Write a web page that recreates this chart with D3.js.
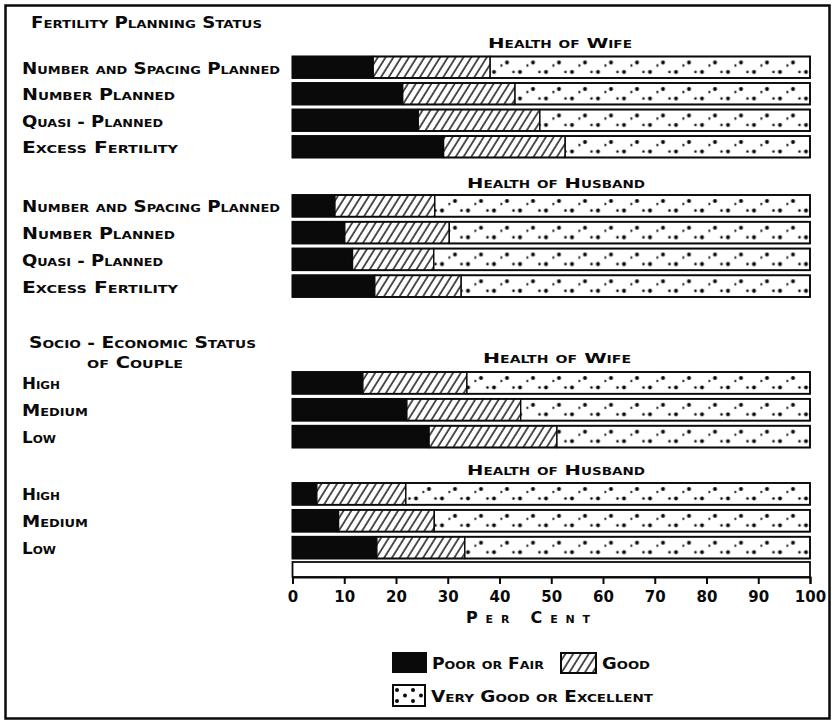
<!DOCTYPE html>
<html><head><meta charset="utf-8">
<script src="https://cdn.jsdelivr.net/npm/d3@7"></script>
<style>
body{margin:0;background:#fff;}
svg{display:block;}
text{font-family:"DejaVu Sans",sans-serif;font-weight:bold;font-variant:small-caps;fill:#0a0a0a;}
</style></head>
<body>
<svg id="chart" width="834" height="725"></svg>
<script>
// ---------- data ----------
const fpsCategories = ["Number and Spacing Planned", "Number Planned", "Quasi - Planned", "Excess Fertility"];
const sesCategories = ["High", "Medium", "Low"];
const seriesNames = ["Poor or Fair", "Good", "Very Good or Excellent"];

const wifeFpsPoor = [15.6, 21.3, 24.3, 29.2];
const wifeFpsGood = [22.6, 21.7, 23.5, 23.5];
const wifeFpsVeryGood = [61.8, 57.0, 52.2, 47.3];

const husbandFpsPoor = [8.2, 10.1, 11.6, 15.9];
const husbandFpsGood = [19.3, 20.2, 15.7, 16.7];
const husbandFpsVeryGood = [72.5, 69.7, 72.7, 67.4];

const wifeSesPoor = [13.6, 22.1, 26.4];
const wifeSesGood = [20.1, 22.0, 24.7];
const wifeSesVeryGood = [66.3, 55.9, 48.9];

const husbandSesPoor = [4.7, 8.9, 16.3];
const husbandSesGood = [17.2, 18.5, 17.0];
const husbandSesVeryGood = [78.1, 72.6, 66.7];

const tickValues = [0, 10, 20, 30, 40, 50, 60, 70, 80, 90, 100];

// ---------- layout ----------
const svg = d3.select("#chart");
const ink = "#0a0a0a";
const x = d3.scaleLinear().domain([0, 100]).range([292.5, 810]);

const panels = [
  {title: "Health of Wife", cats: fpsCategories, poor: wifeFpsPoor, good: wifeFpsGood, vg: wifeFpsVeryGood,
   range: [56.5, 157.5], titleY: 48, titleX: 560, titleW: 144, labelX: 22},
  {title: "Health of Husband", cats: fpsCategories, poor: husbandFpsPoor, good: husbandFpsGood, vg: husbandFpsVeryGood,
   range: [195, 297], titleY: 188, titleX: 556, titleW: 178, labelX: 22},
  {title: "Health of Wife", cats: sesCategories, poor: wifeSesPoor, good: wifeSesGood, vg: wifeSesVeryGood,
   range: [372, 447.5], titleY: 363, titleX: 557, titleW: 148, labelX: 22},
  {title: "Health of Husband", cats: sesCategories, poor: husbandSesPoor, good: husbandSesGood, vg: husbandSesVeryGood,
   range: [483, 558.5], titleY: 475, titleX: 556, titleW: 178, labelX: 22}
];
const labelWidths = {
  "Number and Spacing Planned": 258, "Number Planned": 153, "Quasi - Planned": 141, "Excess Fertility": 156,
  "High": 38, "Medium": 66, "Low": 34
};

const defs = svg.append("defs");
// hatch pattern
const hatch = defs.append("pattern").attr("id", "hatch").attr("patternUnits", "userSpaceOnUse")
  .attr("width", 6.6).attr("height", 20).attr("patternTransform", "rotate(32)");
hatch.append("rect").attr("width", 6.6).attr("height", 20).attr("fill", "#fff");
hatch.append("line").attr("x1", 1).attr("x2", 1).attr("y1", 0).attr("y2", 20)
  .attr("stroke", ink).attr("stroke-width", 1.4);

function dotPattern(id, y0, h) {
  const p = defs.append("pattern").attr("id", id).attr("patternUnits", "userSpaceOnUse")
    .attr("x", 292.5).attr("y", y0).attr("width", 26).attr("height", h);
  p.append("rect").attr("width", 26).attr("height", h).attr("fill", "#fff");
  p.append("circle").attr("cx", 6.5).attr("cy", 6).attr("r", 2).attr("fill", ink);
  p.append("circle").attr("cx", 19.5).attr("cy", 15.5).attr("r", 2).attr("fill", ink);
  p.append("circle").attr("cx", 13).attr("cy", 15.5).attr("r", 1.3).attr("fill", ink);
  p.append("circle").attr("cx", 0.5).attr("cy", 9).attr("r", 1.3).attr("fill", ink);
}

// frame
svg.append("rect").attr("x", 5.5).attr("y", 5.5).attr("width", 824).attr("height", 713)
  .attr("fill", "none").attr("stroke", ink).attr("stroke-width", 2.5);

// section titles
svg.append("text").attr("x", 31).attr("y", 28).attr("font-size", 15)
  .attr("textLength", 231).attr("lengthAdjust", "spacingAndGlyphs").text("Fertility Planning Status");
svg.append("text").attr("x", 29).attr("y", 348).attr("font-size", 15)
  .attr("textLength", 227).attr("lengthAdjust", "spacingAndGlyphs").text("Socio - Economic Status");
svg.append("text").attr("x", 87).attr("y", 368).attr("font-size", 15)
  .attr("textLength", 96).attr("lengthAdjust", "spacingAndGlyphs").text("of Couple");

const colors = [ink, "url(#hatch)", null];

panels.forEach((pan, pi) => {
  const y = d3.scaleBand().domain(pan.cats).range(pan.range).paddingInner(0.19).paddingOuter(0);
  const dotId = "dots" + pi;
  dotPattern(dotId, y(pan.cats[0]), y.step());
  const rows = pan.cats.map((c, i) => ({cat: c, poor: pan.poor[i], good: pan.good[i], vg: pan.vg[i]}));
  const stack = d3.stack().keys(["poor", "good", "vg"])(rows);
  const g = svg.append("g");
  g.selectAll("g.layer").data(stack).join("g").attr("class", "layer")
    .attr("fill", (d, i) => i === 2 ? `url(#${dotId})` : colors[i])
    .selectAll("rect").data(d => d).join("rect")
    .attr("x", d => x(d[0])).attr("width", d => x(d[1]) - x(d[0]))
    .attr("y", d => y(d.data.cat)).attr("height", y.bandwidth())
    .attr("stroke", ink).attr("stroke-width", 1.4);
  g.selectAll("rect.outline").data(rows).join("rect").attr("class", "outline")
    .attr("x", x(0)).attr("width", x(100) - x(0))
    .attr("y", d => y(d.cat)).attr("height", y.bandwidth())
    .attr("fill", "none").attr("stroke", ink).attr("stroke-width", 1.8);
  svg.append("g").selectAll("text").data(pan.cats).join("text")
    .attr("x", pan.labelX).attr("y", d => y(d) + y.bandwidth() / 2 + 6.5)
    .attr("font-size", 15.5)
    .attr("textLength", d => labelWidths[d]).attr("lengthAdjust", "spacingAndGlyphs")
    .text(d => d);
  svg.append("text").attr("x", pan.titleX).attr("y", pan.titleY).attr("text-anchor", "middle")
    .attr("font-size", 14.5).attr("textLength", pan.titleW).attr("lengthAdjust", "spacingAndGlyphs")
    .text(pan.title);
  if (pi === 3) {
    const bottom = y(pan.cats[pan.cats.length - 1]) + y.bandwidth();
    svg.append("rect").attr("x", x(0)).attr("width", x(100) - x(0))
      .attr("y", bottom + 3.5).attr("height", 577 - bottom - 3.5)
      .attr("fill", "#fff").attr("stroke", ink).attr("stroke-width", 1.8);
  }
});

// axis
const axis = svg.append("g").attr("transform", "translate(0,577)")
  .call(d3.axisBottom(x).tickValues(tickValues).tickSize(7).tickPadding(7).tickSizeOuter(7));
axis.select(".domain").attr("stroke", ink).attr("stroke-width", 2);
axis.selectAll(".tick line").attr("stroke", ink).attr("stroke-width", 2);
axis.selectAll(".tick text").attr("font-size", 15).attr("font-family", "DejaVu Sans")
  .attr("font-weight", "bold").attr("fill", ink);
svg.append("text").attr("x", 528).attr("y", 623).attr("text-anchor", "middle").attr("font-size", 16)
  .attr("textLength", 124).attr("lengthAdjust", "spacing").text("Per Cent");

// legend
const legendItems = [
  {name: seriesNames[0], fill: ink, bx: 393, by: 653, bw: 33, bh: 19, tx: 432, tw: 112},
  {name: seriesNames[1], fill: "url(#hatch)", bx: 561, by: 653, bw: 35, bh: 20, tx: 602, tw: 48},
  {name: seriesNames[2], fill: "url(#dotsLegend)", bx: 393, by: 685, bw: 32, bh: 21, tx: 431, tw: 222}
];
const lp = defs.append("pattern").attr("id", "dotsLegend").attr("patternUnits", "userSpaceOnUse")
  .attr("x", 393).attr("y", 685).attr("width", 16).attr("height", 21);
lp.append("rect").attr("width", 16).attr("height", 21).attr("fill", "#fff");
lp.append("circle").attr("cx", 4).attr("cy", 5).attr("r", 2).attr("fill", ink);
lp.append("circle").attr("cx", 4).attr("cy", 16).attr("r", 2).attr("fill", ink);
lp.append("circle").attr("cx", 12).attr("cy", 10.5).attr("r", 2).attr("fill", ink);
const lg = svg.append("g").selectAll("g").data(legendItems).join("g");
lg.append("rect").attr("x", d => d.bx).attr("y", d => d.by).attr("width", d => d.bw).attr("height", d => d.bh)
  .attr("fill", d => d.fill).attr("stroke", ink).attr("stroke-width", 2);
lg.append("text").attr("x", d => d.tx).attr("y", d => d.by + d.bh / 2 + 6).attr("font-size", 15)
  .attr("textLength", d => d.tw).attr("lengthAdjust", "spacingAndGlyphs").text(d => d.name);
</script>
</body></html>
